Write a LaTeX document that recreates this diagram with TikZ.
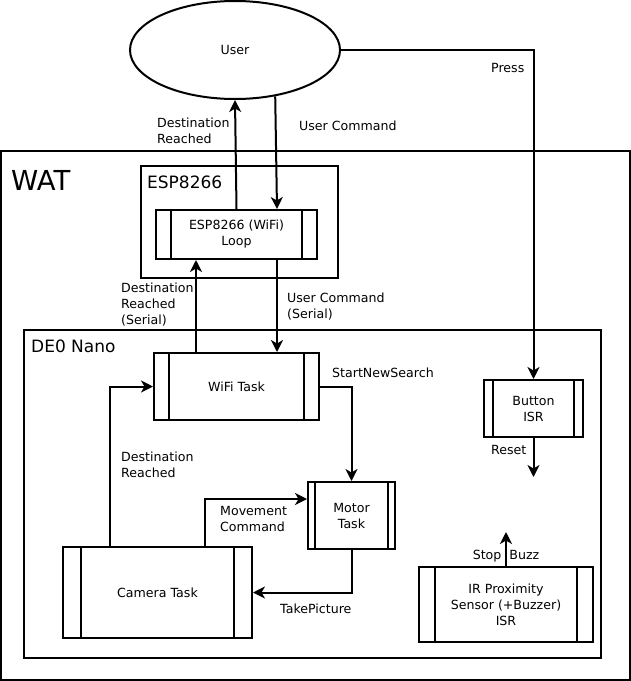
\documentclass[tikz,border=0pt]{standalone}
\usepackage{fontspec}
\setmainfont{DejaVu Sans}
\usepackage{tikz}
\usetikzlibrary{arrows.meta,shapes.geometric,positioning}
\tikzstyle{arrow} = [line width=2pt,-{Stealth[length=12pt,width=12pt,inset=3.5pt]}]
\tikzstyle{frame} = [draw, line width=2pt, inner sep=0pt]
\tikzstyle{task} = [draw, line width=2pt, align=center, inner sep=0pt, font=\fontsize{12.6}{16}\selectfont]
\tikzstyle{lbl} = [align=left, font=\fontsize{12.6}{16}\selectfont, inner sep=0pt]
% the two inner bars of a task box
\newcommand{\taskbars}[2]{%
  \draw[line width=2pt] ([xshift=#2pt]#1.north west) -- ([xshift=#2pt]#1.south west);
  \draw[line width=2pt] ([xshift=-#2pt]#1.north east) -- ([xshift=-#2pt]#1.south east);}

\begin{document}
\begin{tikzpicture}[x=1pt, y=-1pt]
\useasboundingbox (0,0) rectangle (631,681);

% containers
\node[frame, minimum width=629pt, minimum height=529pt] (wat) at (315.5,415.5) {};
\node[anchor=north west, font=\fontsize{27.5}{32}\selectfont, inner sep=0pt] (watlbl) at (11,170) {WAT};
\node[frame, minimum width=197pt, minimum height=112pt] (esp) at (239.5,222) {};
\node[anchor=north west, font=\fontsize{17}{20}\selectfont, inner sep=0pt] (esplbl) at (147,176) {ESP8266};
\node[frame, minimum width=577pt, minimum height=328pt] (de0) at (312.5,494) {};
\node[anchor=north west, font=\fontsize{17}{20}\selectfont, inner sep=0pt] (de0lbl) at (31,340) {DE0 Nano};

% user
\node[draw, ellipse, line width=2pt, minimum width=210pt, minimum height=98pt, font=\fontsize{12.6}{16}\selectfont] (user) at (235,50) {User};

% tasks
\node[task, minimum width=161pt, minimum height=49pt] (loop) at (236.5,234.5) {ESP8266 (WiFi)\\Loop};
\taskbars{loop}{16}
\node[task, minimum width=165pt, minimum height=67pt] (wifi) at (236.5,386.5) {WiFi Task};
\taskbars{wifi}{16}
\node[task, minimum width=99pt, minimum height=57pt] (button) at (533.5,408.5) {Button\\ISR};
\taskbars{button}{10}
\node[task, minimum width=87pt, minimum height=67pt] (motor) at (351.5,515.5) {Motor\\Task};
\taskbars{motor}{8}
\node[task, minimum width=189pt, minimum height=91pt] (camera) at (157.5,592.5) {Camera Task};
\taskbars{camera}{19}
\node[task, minimum width=174pt, minimum height=75pt] (ir) at (506,604.5) {IR Proximity\\Sensor (+Buzzer)\\ISR};
\taskbars{ir}{17}

\coordinate (resetend) at (533.5,477);
\coordinate (buzzend) at (506,532);

% connectors
\draw[arrow] (loop.north) -- (user.south);
\draw[arrow] (user.-49) -- ([xshift=40.5pt]loop.north);
\draw[arrow] (user.east) -| (button.north);
\draw[arrow] ([xshift=-40.5pt]wifi.north) -- ([xshift=-40.5pt]loop.south);
\draw[arrow] ([xshift=40.5pt]loop.south) -- ([xshift=40.5pt]wifi.north);
\draw[arrow] (wifi.east) -| (motor.north);
\draw[arrow] ([xshift=-47.5pt]camera.north) |- (wifi.west);
\draw[arrow] ([xshift=47.5pt]camera.north) |- ([yshift=16.5pt]motor.west);
\draw[arrow] (motor.south) |- (camera.east);
\draw[arrow] (button.south) -- (resetend);
\draw[arrow] (ir.north) -- (buzzend);

% labels
\node[lbl, anchor=north west] (l1) at (157,117.5) {Destination\\Reached};
\node[lbl, anchor=north west] (l2) at (299,120.5) {User Command};
\node[lbl, anchor=north west] (l3) at (491,63.5) {Press};
\node[lbl, anchor=north west] (l4) at (121,282.5) {Destination\\Reached\\(Serial)};
\node[lbl, anchor=north west] (l5) at (287,292.5) {User Command\\(Serial)};
\node[lbl, anchor=north west] (l6) at (332,367.5) {StartNewSearch};
\node[lbl, anchor=north west] (l7) at (121,451.5) {Destination\\Reached};
\node[lbl, anchor=north west] (l8) at (220,506.5) {Movement\\Command};
\node[lbl, anchor=north west] (l9) at (280,603.5) {TakePicture};
\node[lbl, anchor=north west] (l10) at (491,445.5) {Reset};
\node[lbl, anchor=north] (l11) at (506,549.5) {Stop\hspace{8pt}Buzz};
\end{tikzpicture}
\end{document}
